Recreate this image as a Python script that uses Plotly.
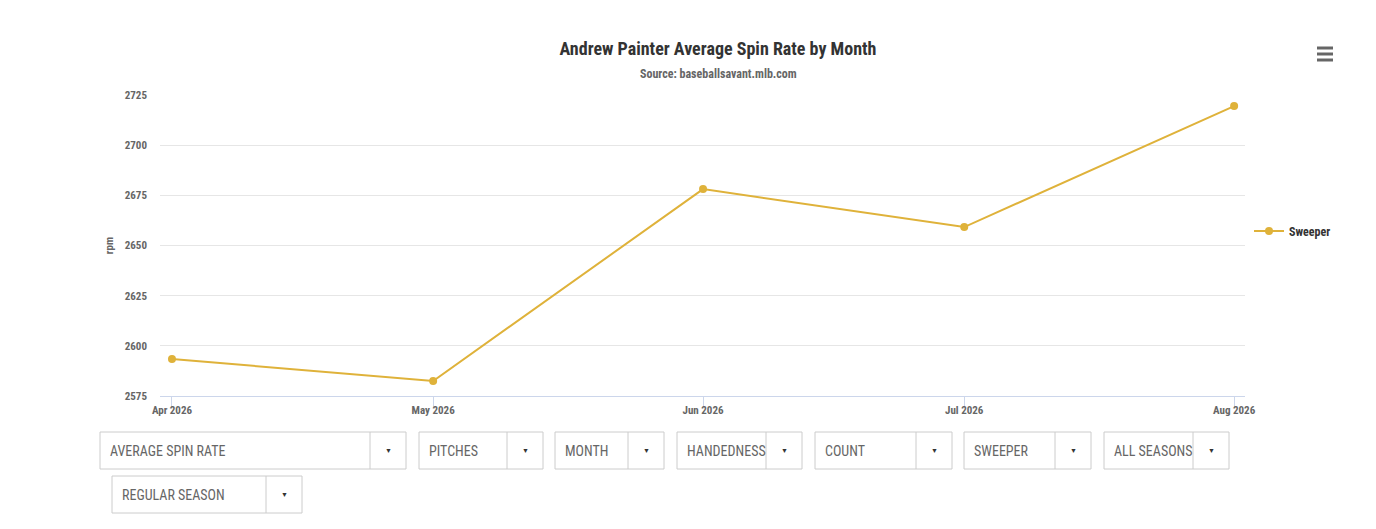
import plotly.graph_objects as go

# data
months = ["2026-04-01", "2026-05-01", "2026-06-01", "2026-07-01", "2026-08-01"]
month_labels = ["Apr 2026", "May 2026", "Jun 2026", "Jul 2026", "Aug 2026"]
spin_rate = [2593.4, 2582.5, 2678.1, 2659.2, 2719.5]
pitch_name = "Sweeper"
y_ticks = [2575, 2600, 2625, 2650, 2675, 2700, 2725]

# dropdown filters shown under the chart
filter_row1 = ["AVERAGE SPIN RATE", "PITCHES", "MONTH", "HANDEDNESS", "COUNT", "SWEEPER", "ALL SEASONS"]
filter_row2 = ["REGULAR SEASON"]

FONT = "Roboto Condensed, Liberation Sans Narrow, Arial Narrow, Roboto, sans-serif"
GOLD = "#dfb23a"

OFF = 8  # page body margin
W, H = 1376 - OFF, 529 - OFF
L, R, T, B = 160, 1245, 95, 396  # plot area in screen pixels


def px_x(x):
    return (x - L) / (R - L)


def px_y(y):
    return (B - y) / (B - T)


fig = go.Figure()
fig.add_trace(go.Scatter(
    x=months, y=spin_rate, mode="lines+markers", name="<b>%s</b>" % pitch_name,
    line=dict(color=GOLD, width=2),
    marker=dict(color=GOLD, size=8),
    hovertemplate="%{x|%b %Y}<br>%{y:.1f} rpm<extra></extra>"))

fig.update_layout(
    width=W, height=H,
    margin=dict(l=L - OFF, r=W + OFF - R, t=T - OFF, b=H + OFF - B),
    paper_bgcolor="white", plot_bgcolor="white",
    font=dict(family=FONT, color="#666666"),
    title=dict(text="<b>Andrew Painter Average Spin Rate by Month</b>",
               x=px_x(718), xref="paper", xanchor="center",
               y=1 - (49 - OFF) / H, yanchor="middle",
               font=dict(size=18, color="#333333", family=FONT)),
    showlegend=True,
    legend=dict(x=px_x(1249), y=px_y(231), xanchor="left", yanchor="middle",
                font=dict(size=12, color="#333333", family=FONT),
                bgcolor="rgba(0,0,0,0)", itemwidth=30),
)

fig.add_annotation(text="<b>Source: baseballsavant.mlb.com</b>", xref="paper", yref="paper",
                   x=px_x(718), y=px_y(74), xanchor="center", yanchor="middle", showarrow=False,
                   font=dict(size=12, color="#666666", family=FONT))

fig.update_xaxes(
    type="date", range=["2026-03-30 15:00", "2026-08-02 06:00"],
    tickvals=months, ticktext=["<b>%s</b>" % m for m in month_labels],
    ticks="outside", ticklen=10, tickcolor="#ccd6eb", ticklabelstandoff=-6,
    showline=True, linecolor="#ccd6eb", linewidth=1,
    showgrid=False, zeroline=False,
    tickfont=dict(size=11, color="#666666", family=FONT))

fig.update_yaxes(
    range=[2575, 2725], tickvals=y_ticks, ticktext=["<b>%d</b>" % v for v in y_ticks],
    showgrid=True, gridcolor="#e6e6e6", gridwidth=1, zeroline=False,
    ticks="", tickfont=dict(size=11, color="#666666", family=FONT), ticklabelstandoff=12,
    title=dict(text="<b>rpm</b>", font=dict(size=11, color="#666666", family=FONT), standoff=8))

# hamburger menu icon
for yy in [48, 54, 60]:
    fig.add_shape(type="line", xref="paper", yref="paper",
                  x0=px_x(1317), x1=px_x(1333), y0=px_y(yy), y1=px_y(yy),
                  line=dict(color="#666666", width=3))

# dropdown boxes: (left, right, divider) in screen pixels
boxes_row1 = [(100, 406, 370), (419, 543, 507), (555, 664, 628), (677, 802, 766),
              (815, 952, 916), (964, 1091, 1055), (1104, 1229, 1193)]
boxes_row2 = [(112, 302, 266)]


def add_dropdown(label, left, right, div, top, bottom):
    fig.add_shape(type="rect", xref="paper", yref="paper",
                  x0=px_x(left), x1=px_x(right), y0=px_y(bottom), y1=px_y(top),
                  line=dict(color="#cccccc", width=1), fillcolor="white", layer="above")
    fig.add_shape(type="line", xref="paper", yref="paper",
                  x0=px_x(div), x1=px_x(div), y0=px_y(bottom), y1=px_y(top),
                  line=dict(color="#cccccc", width=1))
    mid = (top + bottom) / 2
    fig.add_annotation(text=label, xref="paper", yref="paper", x=px_x(left + 8), y=px_y(mid),
                       xanchor="left", yanchor="middle", showarrow=False,
                       font=dict(size=14, color="#666666", family=FONT))
    fig.add_annotation(text="▼", xref="paper", yref="paper", x=px_x((div + right) / 2), y=px_y(mid),
                       xanchor="center", yanchor="middle", showarrow=False,
                       font=dict(size=7, color="#333333", family=FONT))


for label, (a, b, d) in zip(filter_row1, boxes_row1):
    add_dropdown(label, a, b, d, 432, 469)
for label, (a, b, d) in zip(filter_row2, boxes_row2):
    add_dropdown(label, a, b, d, 476, 513)

fig.write_html("out.html", config={"displayModeBar": False})
